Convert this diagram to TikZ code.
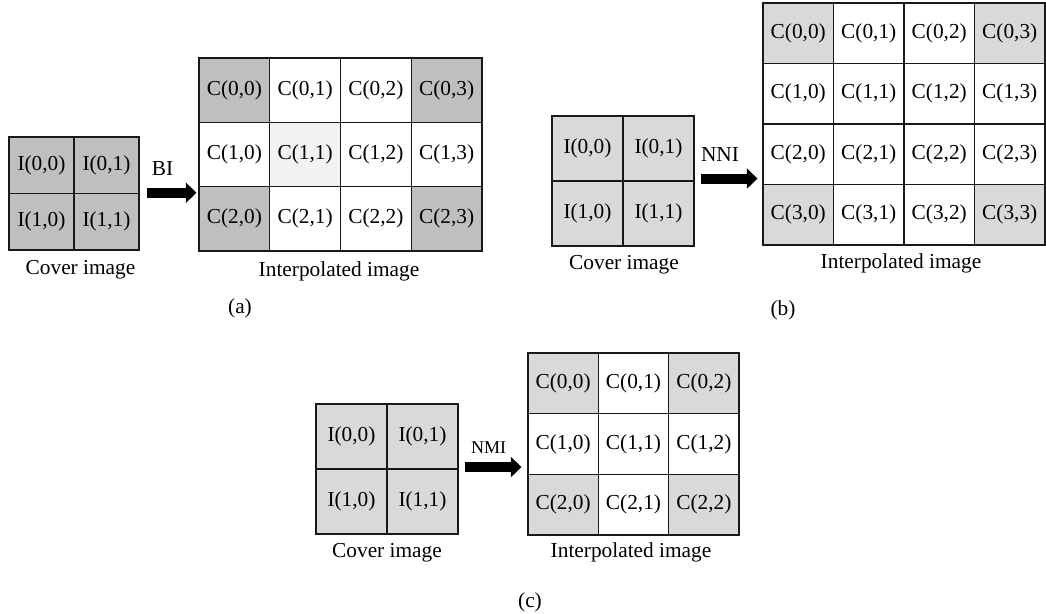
\documentclass[tikz,border=0pt]{standalone}
\usepackage{fontspec}
\setmainfont{Liberation Serif}
\usetikzlibrary{arrows.meta}
\colorlet{gA}{black!25}
\colorlet{gB}{black!15}
\colorlet{gC}{black!5}

\begin{document}
\begin{tikzpicture}[x=0.75pt,y=-0.75pt,font=\fontsize{16}{19}\selectfont,
    cell/.style 2 args={draw=black!90,line width=0.85pt,inner sep=0pt,minimum width=#1*0.75pt,minimum height=#2*0.75pt},
    fat/.style={line width=7.5pt,-{Triangle[length=8pt,width=15.5pt,line width=0pt]}},
    tag/.style={anchor=base,inner sep=0pt}]
\useasboundingbox (0,0) rectangle (1046,614);
% (a) BI
\foreach \r in {0,1}
  \foreach \c in {0,1}
    \node[cell={65}{56.5},fill=gA] (aI\r\c) at ({41.5+65*\c},{165.25+56.5*\r}) {I(\r,\c)};
\foreach \r/\row in {0/{gA,white,white,gA},1/{white,gC,white,white},2/{gA,white,white,gA}}
  \foreach \s [count=\c from 0] in \row
    \node[cell={70.75}{64.33},fill=\s] (aC\r\c) at ({234.4+70.75*\c},{90.2+64.33*\r}) {C(\r,\c)};
\draw[fat,shorten <=5.25pt,shorten >=1.5pt] ([yshift=1pt]aI01.south east) -- ([yshift=1pt]aI01.south east -| aC10.west);
\node[tag] (aBI) at (162.5,175) {BI};
\node[tag] (aCov) at (80.5,274) {Cover image};
\node[tag] (aInt) at (339,276) {Interpolated image};
\node[tag] (aLbl) at (240,313) {(a)};
% (b) NNI
\foreach \r in {0,1}
  \foreach \c in {0,1}
    \node[cell={71}{65},fill=gB] (bI\r\c) at ({587.5+71*\c},{148.5+65*\r}) {I(\r,\c)};
\foreach \r/\row in {0/{gB,white,white,gB},1/{white,white,white,white},2/{white,white,white,white},3/{gB,white,white,gB}}
  \foreach \s [count=\c from 0] in \row
    \node[cell={70.5}{60.5},fill=\s] (bC\r\c) at ({798.25+70.5*\c},{33.25+60.5*\r}) {C(\r,\c)};
\draw[fat,shorten <=4.5pt,shorten >=3.75pt] ([yshift=2.25pt]bI01.south east) -- ([yshift=2.25pt]bI01.south east -| bC20.west);
\node[tag] (bNNI) at (720,161) {NNI};
\node[tag] (bCov) at (624,269) {Cover image};
\node[tag] (bInt) at (901,268) {Interpolated image};
\node[tag] (bLbl) at (783,315) {(b)};
% (c) NMI
\foreach \r in {0,1}
  \foreach \c in {0,1}
    \node[cell={71}{65},fill=gB] (cI\r\c) at ({351.5+71*\c},{436.5+65*\r}) {I(\r,\c)};
\foreach \r/\row in {0/{gB,white,gB},1/{white,white,white},2/{gB,white,gB}}
  \foreach \s [count=\c from 0] in \row
    \node[cell={70.33}{60.67},fill=\s] (cC\r\c) at ({563.2+70.33*\c},{383.3+60.67*\r}) {C(\r,\c)};
\draw[fat,shorten <=4.5pt,shorten >=4.5pt] ([yshift=1.9pt]cI01.south east) -- ([yshift=1.9pt]cI01.south east -| cC10.west);
\node[tag,font=\fontsize{13.5}{16}\selectfont] (cNMI) at (488.5,453) {NMI};
\node[tag] (cCov) at (387,557) {Cover image};
\node[tag] (cInt) at (631,557) {Interpolated image};
\node[tag] (cLbl) at (530,607) {(c)};
\end{tikzpicture}
\end{document}
